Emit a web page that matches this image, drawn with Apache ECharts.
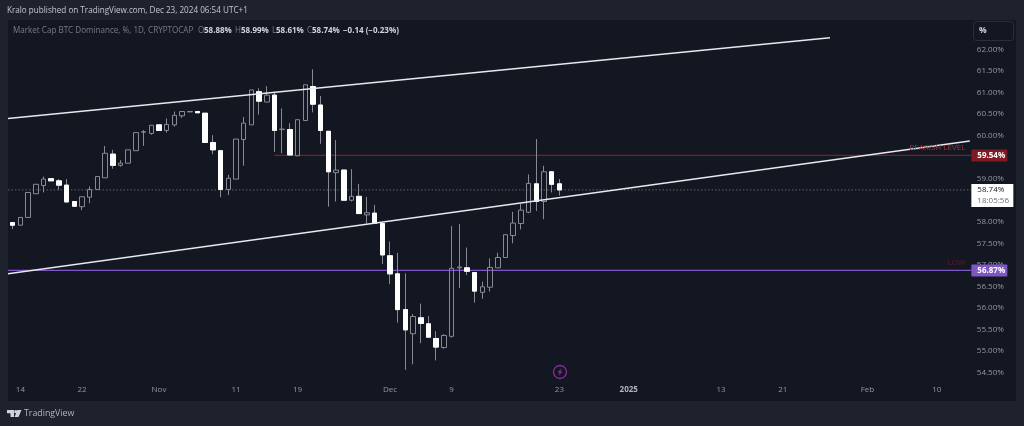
<!DOCTYPE html>
<html><head><meta charset="utf-8">
<style>html,body{margin:0;padding:0;background:#1e222d}#c{width:1024px;height:426px}</style>
<script src="https://cdn.jsdelivr.net/npm/echarts@6/dist/echarts.min.js"></script>
</head><body><div id="c"></div>
<script>
const dates = ["10-13","10-14","10-15","10-16","10-17","10-18","10-19","10-20","10-21","10-22","10-23","10-24","10-25","10-26","10-27","10-28","10-29","10-30","10-31",
"11-01","11-02","11-03","11-04","11-05","11-06","11-07","11-08","11-09","11-10","11-11","11-12","11-13","11-14","11-15","11-16","11-17","11-18","11-19","11-20","11-21","11-22","11-23","11-24","11-25","11-26","11-27","11-28","11-29","11-30",
"12-01","12-02","12-03","12-04","12-05","12-06","12-07","12-08","12-09","12-10","12-11","12-12","12-13","12-14","12-15","12-16","12-17","12-18","12-19","12-20","12-21","12-22","12-23"];
const futureDates = ["12-24","12-25","12-26","12-27","12-28","12-29","12-30","12-31",
"01-01","01-02","01-03","01-04","01-05","01-06","01-07","01-08","01-09","01-10","01-11","01-12","01-13","01-14","01-15","01-16","01-17","01-18","01-19","01-20","01-21","01-22","01-23","01-24","01-25","01-26","01-27","01-28","01-29","01-30","01-31",
"02-01","02-02","02-03","02-04","02-05","02-06","02-07","02-08","02-09","02-10","02-11","02-12","02-13","02-14"];
const opens = [57.98,57.92,58.10,58.65,58.84,59.00,58.95,58.85,58.47,58.35,58.57,58.75,59.02,59.57,59.31,59.36,59.65,60.08,60.05,60.25,60.12,60.25,60.46,60.55,60.56,60.52,59.84,59.65,58.75,58.99,59.91,60.25,61.02,60.78,60.94,60.14,60.14,59.53,60.35,61.14,60.71,60.10,59.14,59.20,58.50,58.59,58.16,58.20,57.96,57.21,56.79,55.96,55.40,55.77,55.63,55.29,55.08,55.34,56.93,56.93,56.82,56.36,56.48,56.93,57.17,57.68,57.96,58.22,58.88,58.47,59.16,58.88];
const closes = [57.92,58.10,58.68,58.87,58.99,58.95,58.85,58.46,58.36,58.58,58.75,59.05,59.59,59.31,59.36,59.67,60.07,60.09,60.24,60.12,60.26,60.47,60.56,60.56,60.53,59.84,59.67,58.75,59.01,59.92,60.29,61.06,60.80,60.94,60.12,60.15,59.55,60.37,61.18,60.73,60.12,59.16,59.20,58.50,58.59,58.19,58.21,57.96,57.23,56.79,55.96,55.49,55.80,55.64,55.32,55.09,55.36,56.92,56.95,56.85,56.39,56.49,56.94,57.17,57.70,57.97,58.27,58.89,58.47,59.16,58.87,58.74];
const lows = [57.83,57.92,58.10,58.65,58.68,58.95,58.74,58.46,58.36,58.27,58.43,58.75,59.02,59.23,59.28,59.36,59.65,59.76,60.02,60.12,60.07,60.21,60.41,60.55,60.53,59.84,59.57,58.57,58.62,58.99,59.30,60.25,60.49,60.78,59.62,59.59,59.55,59.53,60.35,60.54,59.81,58.35,58.47,58.50,58.47,58.19,57.96,57.96,57.02,56.55,55.66,54.56,54.69,55.18,55.32,54.78,55.05,55.31,56.46,56.76,56.12,56.21,56.38,56.93,57.17,57.50,57.82,58.20,58.25,58.06,58.68,58.61];
const highs = [57.98,58.10,58.68,58.87,59.05,59.00,58.99,58.99,58.47,58.58,58.82,59.05,59.76,59.67,59.43,59.67,60.07,60.13,60.24,60.25,60.40,60.56,60.56,60.56,60.56,60.52,60.01,59.65,59.09,59.92,60.43,61.06,61.10,61.15,61.02,60.63,60.29,60.37,61.18,61.54,60.92,60.10,59.90,59.20,59.22,58.88,58.58,58.39,57.96,57.54,57.28,56.80,55.86,56.10,55.81,55.46,55.39,57.90,57.95,57.40,56.82,56.61,57.15,57.28,57.70,58.23,58.41,59.10,59.92,59.30,59.16,58.99];
const tickLabels = {"10-14":"14","10-22":"22","11-01":"Nov","11-11":"11","11-19":"19","12-01":"Dec","12-09":"9","12-23":"23","01-01":"2025","01-13":"13","01-21":"21","02-01":"Feb","02-10":"10"};
const upperChannel = [[-0.61,60.40],[106.14,62.27]];
const lowerChannel = [[-0.61,56.79],[124.3,59.875]];
const bearishStart = 33.96, bearishLevel = 59.54;
const lowLevel = 56.87, lastPrice = 58.74, axisEnd = 124.5, axisStart = -0.61;
const countdown = "18:05:56";
const headerText = "Kralo published on TradingView.com, Dec 23, 2024 06:54 UTC+1";
const legendText = "Market Cap BTC Dominance, %, 1D, CRYPTOCAP";
const ohlcLegend = [["O",198,"grey"],["58.88%",204,"val"],["H",235,"grey"],["58.99%",241,"val"],["L",272,"grey"],["58.61%",276,"val"],["C",307,"grey"],["58.74%",312,"val"],["\u22120.14 (\u22120.23%)",343,"val"]];

const FONT = '"Open Sans", "DejaVu Sans", sans-serif';
const allCats = dates.concat(futureDates);
const candleData = dates.map((d,i)=>[opens[i],closes[i],lows[i],highs[i]]);
const downBodies = dates.map((d,i)=> closes[i]<opens[i] ? [opens[i],closes[i],closes[i],opens[i]] : '-');
const WICK = '#878a94';
const tag = (text,bg)=>({show:true,position:'right',distance:0,formatter:text,backgroundColor:bg,color:'#fff',
  fontFamily:FONT,fontSize:8,fontWeight:'bold',padding:[2,4,2,6],width:26,borderRadius:1});
const levelLine = (name,data,color,width,z,extra)=>Object.assign({name,type:'line',xAxisIndex:1,yAxisIndex:0,data,symbol:'circle',symbolSize:0,showSymbol:true,showAllSymbol:true,silent:true,clip:false,z,
  lineStyle:{color,width},animation:false},extra||{});
const txt = (x,y,t,fill,size,weight,align)=>({type:'text',x,y,z:20,style:{text:t,fill,fontFamily:FONT,fontSize:size,fontWeight:weight||'normal',align:align||'left',verticalAlign:'middle'}});

const chart = echarts.init(document.getElementById('c'),null,{renderer:'canvas'});
chart.setOption({
  animation:false,
  backgroundColor:'#1e222d',
  grid:{left:8.85,right:52.65,top:27.94,height:344.56,containLabel:false},
  xAxis:[
    {type:'category',data:allCats,boundaryGap:true,position:'bottom',axisLine:{show:false},axisTick:{show:false},splitLine:{show:false},
     axisLabel:{interval:0,margin:13,hideOverlap:false,color:'#9598a1',fontFamily:FONT,fontSize:8,
       formatter:v=>{const t=tickLabels[v]||'';return t==='2025'?'{b|2025}':t;},
       rich:{b:{color:'#b2b5be',fontWeight:'bold',fontFamily:FONT,fontSize:8}}}},
    {type:'value',min:-0.5,max:124.5,show:false}
  ],
  yAxis:[{type:'value',position:'right',min:54.5,max:62.5,interval:0.5,axisLine:{show:false},axisTick:{show:false},splitLine:{show:false},
    axisLabel:{margin:5.5,color:'#9598a1',fontFamily:FONT,fontSize:8,formatter:v=>v===62.5?'':v.toFixed(2)+'%'}}],
  graphic:[
    {type:'rect',z:-10,shape:{x:8,y:20,width:1008,height:381},style:{fill:'#131722'}},
    txt(7,11,headerText,'#c4c7cf',8.15),
    txt(13,30.5,legendText,'#787b86',8.08),
    ...ohlcLegend.map(([t,x,k])=>txt(x,30.5,t,k==='grey'?'#787b86':'#d1d4dc',k==='grey'?8.1:8,k==='grey'?'normal':'bold')),
    {type:'rect',z:20,shape:{x:973.5,y:21.5,width:40,height:19,r:3},style:{fill:'transparent',stroke:'#2a2e39',lineWidth:1}},
    txt(979,31,'%','#d1d4dc',8.5,'bold'),
    {type:'circle',z:20,shape:{cx:560,cy:372,r:6.5},style:{fill:'transparent',stroke:'#8e2a9e',lineWidth:1.3}},
    {type:'polygon',z:20,shape:{points:[[561.5,368],[557.5,372.6],[559.7,372.6],[558.5,376],[562.5,371.4],[560.3,371.4]]},style:{fill:'#8e2a9e'}},
    {type:'polygon',z:20,shape:{points:[[7,410],[14,410],[14,417],[10.5,417],[10.5,413.2],[7,413.2]]},style:{fill:'#d1d4dc'}},
    {type:'circle',z:20,shape:{cx:15.8,cy:411.7,r:1.6},style:{fill:'#d1d4dc'}},
    {type:'polygon',z:20,shape:{points:[[17.5,410],[21.5,410],[18.5,417],[14.5,417]]},style:{fill:'#d1d4dc'}},
    txt(24,413,'TradingView','#b2b5be',8.8)
  ],
  series:[
    levelLine('last price',[[axisStart,lastPrice],{value:[axisEnd,lastPrice],
      label:{show:true,position:'right',distance:0,offset:[0,5.5],backgroundColor:'#fff',padding:[1,4,1,6],width:32,fontFamily:FONT,
        formatter:'{a|'+lastPrice.toFixed(2)+'%}\n{b|'+countdown+'}',
        rich:{a:{color:'#131722',fontSize:8,fontFamily:FONT,lineHeight:10.5},b:{color:'#6a6d78',fontSize:8,fontFamily:FONT,lineHeight:10.5}}}}],'#5d606b',1,1,{lineStyle:{color:'#5d606b',width:1,type:[1.5,2]}}),
    levelLine('bearish',[[bearishStart,bearishLevel],{value:[axisEnd,bearishLevel],label:tag(bearishLevel.toFixed(2)+'%','#7f1a24')}],'#801c22',1.2,1),
    levelLine('low',[[axisStart,lowLevel],{value:[axisEnd,lowLevel],label:tag(lowLevel.toFixed(2)+'%','#7e57c2')}],'#7e57c2',1.2,1),
    levelLine('bearish text',[{value:[axisEnd,bearishLevel],label:{show:true,position:'left',distance:6,offset:[0,-8],formatter:'BEARISH LEVEL',color:'#b02a35',fontFamily:FONT,fontSize:8}}],'transparent',0,6),
    levelLine('low text',[{value:[axisEnd,lowLevel],label:{show:true,position:'left',distance:6,offset:[0,-8],formatter:'LOW',color:'#5e1c28',fontFamily:FONT,fontSize:8}}],'transparent',0,6),
    {name:'BTC.D',type:'candlestick',data:candleData,barWidth:5,z:3,silent:true,
     itemStyle:{color:'transparent',color0:'#ffffff',borderColor:WICK,borderColor0:WICK,borderWidth:1}},
    {name:'down bodies',type:'candlestick',data:downBodies,barWidth:5,z:4,silent:true,
     itemStyle:{color:'#ffffff',color0:'#ffffff',borderColor:'#ffffff',borderColor0:'#ffffff',borderWidth:1}},
    levelLine('upper channel',upperChannel,'#e8e9ec',1.5,5),
    levelLine('lower channel',lowerChannel,'#e8e9ec',1.5,5)
  ]
});
</script></body></html>
